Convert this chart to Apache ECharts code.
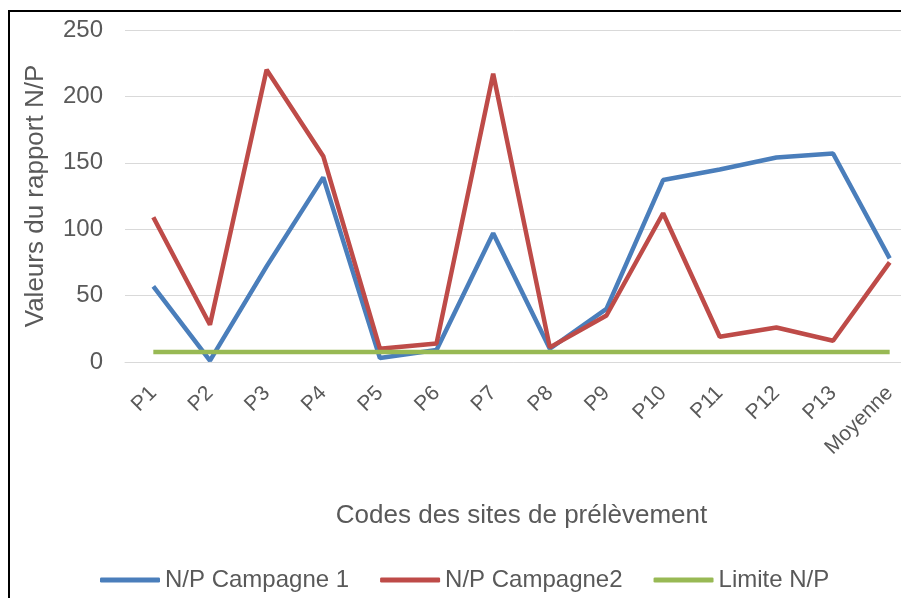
<!DOCTYPE html>
<html>
<head>
<meta charset="utf-8">
<script src="https://cdn.jsdelivr.net/npm/echarts@6/dist/echarts.min.js"></script>
<style>
  html, body { margin: 0; padding: 0; background: #fff; }
  #chart { width: 901px; height: 598px; }
</style>
</head>
<body>
<div id="chart"></div>
<script>
// sites de prélèvement
const sites = ["P1", "P2", "P3", "P4", "P5", "P6", "P7", "P8", "P9", "P10", "P11", "P12", "P13", "Moyenne"];
// valeurs
const campagne1 = [57, 1, 72, 139, 3, 9, 97, 10, 40, 137, 145, 154, 157, 78];
const campagne2 = [109, 28, 220, 155, 10, 14, 217, 11, 35, 112, 19, 26, 16, 75];
const limite = [7.5, 7.5, 7.5, 7.5, 7.5, 7.5, 7.5, 7.5, 7.5, 7.5, 7.5, 7.5, 7.5, 7.5];
const yTicks = [0, 50, 100, 150, 200, 250];

const font = "'Liberation Sans', sans-serif";
const grey = "#595959";

let chart = echarts.init(document.getElementById("chart"));
chart.setOption({
  animation: false,
  textStyle: { fontFamily: font, color: grey },
  graphic: [
    {
      type: "rect",
      shape: { x: 9, y: 11, width: 920, height: 620 },
      style: { fill: "none", stroke: "#000", lineWidth: 2 },
      silent: true,
    },
  ],
  // la zone de tracé déborde à droite de l'image
  grid: { left: 125, width: 793, top: 30, height: 332, outerBoundsMode: "none" },
  legend: {
    bottom: 1,
    left: 95,
    icon: "roundRect",
    itemWidth: 60,
    itemHeight: 5,
    itemGap: 31,
    textStyle: { fontSize: 24, color: grey, fontFamily: font },
    data: ["N/P Campagne 1", "N/P Campagne2", "Limite N/P"],
  },
  xAxis: {
    type: "category",
    data: sites,
    boundaryGap: true,
    name: "Codes des sites de prélèvement",
    nameLocation: "middle",
    nameGap: 141,
    nameTextStyle: { fontSize: 26, color: grey, fontFamily: font },
    axisLine: { lineStyle: { color: "#d9d9d9" } },
    axisTick: { show: false },
    axisLabel: { rotate: 45, fontSize: 21, color: grey, margin: 28, interval: 0 },
  },
  yAxis: {
    type: "value",
    min: yTicks[0],
    max: yTicks[yTicks.length - 1],
    interval: 50,
    name: "Valeurs du rapport N/P",
    nameLocation: "middle",
    nameGap: 76,
    nameTextStyle: { fontSize: 26, color: grey, fontFamily: font },
    axisLine: { show: false },
    axisTick: { show: false },
    axisLabel: { fontSize: 24, color: grey, margin: 22 },
    splitLine: { lineStyle: { color: "#d9d9d9", width: 1 } },
  },
  series: [
    {
      name: "N/P Campagne 1",
      type: "line",
      data: campagne1,
      symbol: "none",
      lineStyle: { color: "#4a7ebb", width: 4.5 },
      itemStyle: { color: "#4a7ebb" },
    },
    {
      name: "N/P Campagne2",
      type: "line",
      data: campagne2,
      symbol: "none",
      lineStyle: { color: "#be4b48", width: 4.5 },
      itemStyle: { color: "#be4b48" },
    },
    {
      name: "Limite N/P",
      type: "line",
      data: limite,
      symbol: "none",
      lineStyle: { color: "#98b954", width: 4.5 },
      itemStyle: { color: "#98b954" },
    },
  ],
});
</script>
</body>
</html>
